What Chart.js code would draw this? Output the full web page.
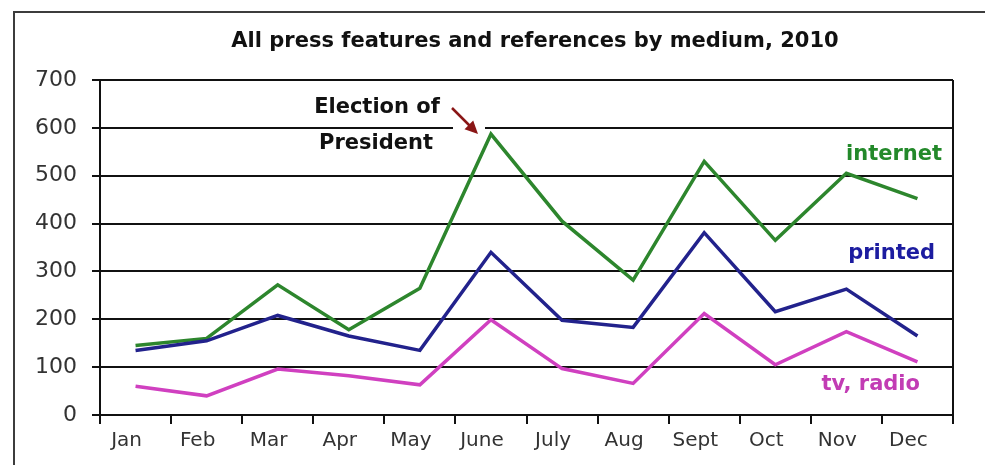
<!DOCTYPE html>
<html>
<head>
<meta charset="utf-8">
<title>All press features and references by medium, 2010</title>
<script src="https://cdn.jsdelivr.net/npm/chart.js@4"></script>
<style>
  html, body { margin: 0; padding: 0; background: #fff; }
  #wrap { position: relative; width: 985px; height: 465px; }
</style>
</head>
<body>
<div id="wrap"><canvas id="chart" width="985" height="465"></canvas></div>
<script>
const months = ["Jan", "Feb", "Mar", "Apr", "May", "June", "July", "Aug", "Sept", "Oct", "Nov", "Dec"];
const internet = [145, 160, 272, 178, 265, 587, 405, 282, 530, 365, 505, 452];
const printed = [135, 155, 208, 165, 135, 340, 198, 183, 381, 216, 263, 165];
const tvRadio = [60, 40, 96, 82, 63, 199, 97, 66, 212, 105, 174, 111];
const yTicks = [0, 100, 200, 300, 400, 500, 600, 700];

const FONT = "'DejaVu Sans', Verdana, sans-serif";

// frame, title, series labels and the election note
const decorations = {
  id: "decorations",
  beforeDraw(chart) {
    const ctx = chart.ctx;
    ctx.save();
    ctx.fillStyle = "#fff";
    ctx.fillRect(0, 0, chart.width, chart.height);
    ctx.fillStyle = "#3c3c3c";
    ctx.fillRect(13, 11, 2, chart.height - 11);
    ctx.fillRect(13, 11, chart.width - 13, 2);
    ctx.restore();
  },
  beforeDatasetsDraw(chart) {
    const { ctx, chartArea } = chart;
    const y600 = chart.scales.y.getPixelForValue(600);
    ctx.save();
    // right edge of the plot box
    ctx.strokeStyle = "#111";
    ctx.lineWidth = 2;
    ctx.beginPath();
    ctx.moveTo(chartArea.right, chartArea.top);
    ctx.lineTo(chartArea.right, chartArea.bottom);
    ctx.stroke();
    // gap in the 600 line behind the arrow
    ctx.fillStyle = "#fff";
    ctx.fillRect(453, y600 - 3, 32, 6);
    ctx.restore();
  },
  afterDraw(chart) {
    const ctx = chart.ctx;
    ctx.save();
    ctx.textBaseline = "middle";

    ctx.fillStyle = "#111";
    ctx.textAlign = "center";
    ctx.font = "bold 21px " + FONT;
    ctx.fillText("All press features and references by medium, 2010", 535, 42);

    ctx.fillText("Election of", 377, 108);
    ctx.fillText("President", 376, 144);

    ctx.textAlign = "right";
    ctx.fillStyle = "#23892a";
    ctx.fillText("internet", 942, 155);
    ctx.fillStyle = "#1c1ca0";
    ctx.fillText("printed", 935, 254);
    ctx.fillStyle = "#c23cb4";
    ctx.fillText("tv, radio", 920, 385);

    // arrow towards the June peak
    ctx.strokeStyle = "#8a1616";
    ctx.fillStyle = "#8a1616";
    ctx.lineWidth = 2.5;
    ctx.beginPath();
    ctx.moveTo(452, 108);
    ctx.lineTo(470, 126);
    ctx.stroke();
    ctx.beginPath();
    ctx.moveTo(478, 134);
    ctx.lineTo(464.5, 129.2);
    ctx.lineTo(473.2, 120.5);
    ctx.closePath();
    ctx.fill();
    ctx.restore();
  },
};

const line = (label, data, color, order) => ({
  label,
  data,
  borderColor: color,
  borderWidth: 3.5,
  pointRadius: 0,
  tension: 0,
  fill: false,
  order,
});

new Chart(document.getElementById("chart"), {
  type: "line",
  data: {
    labels: months,
    datasets: [
      line("internet", internet, "#2d862d", 2),
      line("printed", printed, "#22228c", 1),
      line("tv, radio", tvRadio, "#d040c0", 3),
    ],
  },
  options: {
    responsive: false,
    animation: false,
    events: [],
    layout: { padding: { top: 80, right: 32, bottom: 0, left: 0 } },
    plugins: {
      legend: { display: false },
      title: { display: false },
      tooltip: { enabled: false },
    },
    scales: {
      x: {
        offset: true,
        grid: {
          display: true,
          offset: true,
          drawOnChartArea: false,
          drawTicks: true,
          tickLength: 9,
          color: "#111",
          lineWidth: 2,
        },
        border: { display: true, color: "#111", width: 2 },
        ticks: {
          padding: 5,
          labelOffset: -9,
          color: "#333",
          font: { family: FONT, size: 20 },
          maxRotation: 0,
          autoSkip: false,
        },
        afterFit(scale) {
          scale.height = 50;
          scale.paddingLeft = 0;
          scale.paddingRight = 0;
        },
      },
      y: {
        min: 0,
        max: 700,
        afterBuildTicks(scale) {
          scale.ticks = yTicks.map((v) => ({ value: v }));
        },
        grid: {
          color: "#111",
          lineWidth: 2,
          drawTicks: true,
          tickLength: 8,
        },
        border: { display: true, color: "#111", width: 2 },
        ticks: {
          padding: 15,
          color: "#333",
          font: { family: FONT, size: 22 },
        },
        afterFit(scale) {
          scale.width = 100;
          scale.paddingTop = 0;
          scale.paddingBottom = 0;
        },
      },
    },
  },
  plugins: [decorations],
});
</script>
</body>
</html>
